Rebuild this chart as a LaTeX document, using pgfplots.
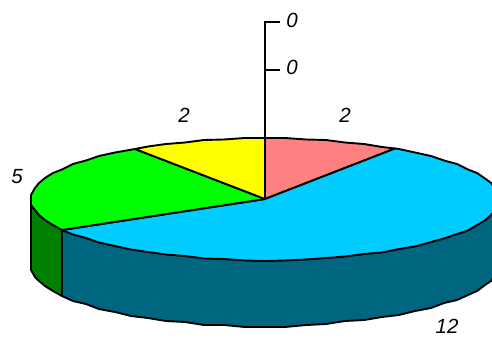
\documentclass[border=0pt]{standalone}
\usepackage{fontspec}
\setmainfont{Liberation Sans}
\usepackage{pgfplots}
\pgfplotsset{compat=1.18}
\definecolor{pinkw}{RGB}{255,128,128}
\definecolor{bluew}{RGB}{0,204,255}
\definecolor{bluesd}{RGB}{0,102,128}
\definecolor{greenw}{RGB}{0,255,0}
\definecolor{greensd}{RGB}{0,128,0}
\definecolor{yelloww}{RGB}{255,255,0}
\tikzset{ln/.style={draw=black, solid, line width=1.9pt, line join=round, mark=none, sharp plot},
  ax/.style={draw=black, solid, line width=1.5pt, line join=miter, mark=none, sharp plot},
  lab/.style={font=\fontsize{20.5}{20.5}\selectfont\itshape, text=black, inner sep=0pt}}
\begin{document}
\begin{tikzpicture}[x=1pt,y=1pt]
\path[use as bounding box] (0,0) rectangle (492,338);
\begin{axis}[
  anchor=south west, at={(0,0)},
  scale only axis, width=492pt, height=338pt,
  xmin=0, xmax=492, ymin=0, ymax=338, y dir=reverse,
  axis lines=none, clip=true,
]
% side faces
\addplot[ln,fill=bluesd] coordinates {(499,199)(498,204)(495,210)(491,215)(485,220)(477,225)(468,230)(457,234)(444,238)(431,242)(415,246)(399,249)(382,252)(364,254)(345,256)(326,258)(306,259)(285,260)(265,261)(245,260)(224,259)(204,258)(185,256)(166,254)(148,252)(131,249)(115,246)(99,242)(86,238)(73,234)(62,230)(62,296)(73,301)(86,304)(99,309)(115,312)(131,316)(148,318)(166,321)(185,322)(204,325)(224,325)(245,327)(265,327)(285,327)(306,325)(326,324)(345,321)(364,320)(382,317)(399,315)(415,311)(431,308)(444,303)(457,300)(468,295)(477,291)(485,285)(491,281)(495,275)(498,269)(499,264)} -- cycle;
\addplot[ln,fill=greensd] coordinates {(62,230)(53,225)(45,220)(39,215)(35,210)(31,205)(31,270)(35,277)(39,281)(45,286)(53,291)(62,296)} -- cycle;
% top faces
\addplot[ln,fill=pinkw] coordinates {(265,199)(265,138)(285,138)(306,139.5)(326,140)(345,142.5)(364,144)(382,147)(395,148.5)} -- cycle;
\addplot[ln,fill=bluew] coordinates {(265,199)(395,148.5)(399,149)(415,152.5)(431,156)(444,160.5)(457,164)(468,169.5)(477,173)(485,178.5)(491,183)(495,188)(498,194)(499,199)(498,204)(495,210)(491,215)(485,220.5)(477,225)(468,230.5)(457,234)(444,238.5)(431,242)(415,246.5)(399,249)(382,252.5)(364,254)(345,256.5)(326,258)(306,259.5)(285,260.5)(265,261)(245,260.5)(224,259)(204,258.5)(185,256)(166,254.5)(148,252)(131,249.5)(115,246)(99,242.5)(86,238)(73,234.5)(62,230)} -- cycle;
\addplot[ln,fill=greenw] coordinates {(265,199)(62,230)(53,225)(45,220)(39,215)(35,210)(31,205)(31,195)(35,188)(39,183)(45,178)(53,173)(62,169.5)(73,164)(86,160.5)(99,156)(115,152.5)(135,149)} -- cycle;
\addplot[ln,fill=yelloww] coordinates {(265,199)(135,149)(148,146.5)(166,144)(185,142.5)(204,140)(224,139.5)(245,138)(265,138)} -- cycle;
% value axis
\addplot[ax] coordinates {(280,22)(265,22)(265,199)};
\addplot[ax] coordinates {(265,70)(280,70)};
\node[lab] at (axis cs:292,20) {0};
\node[lab] at (axis cs:292,67.5) {0};
\node[lab] at (axis cs:184,115.5) {2};
\node[lab] at (axis cs:345,115.5) {2};
\node[lab] at (axis cs:17,176.5) {5};
\node[lab] at (axis cs:447,326.5) {12};
\end{axis}
\end{tikzpicture}
\end{document}
